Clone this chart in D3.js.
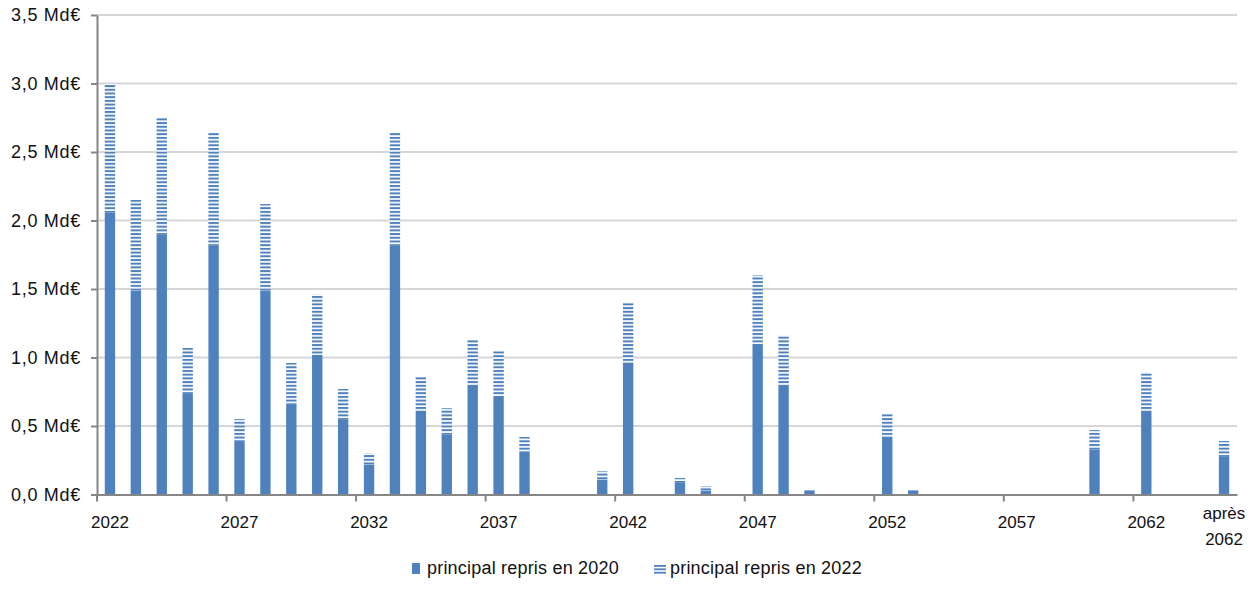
<!DOCTYPE html>
<html><head><meta charset="utf-8">
<script src="https://cdn.jsdelivr.net/npm/d3@7/dist/d3.min.js"></script>
<style>body{margin:0;background:#fff}svg{display:block}</style>
</head><body><svg id="c" width="1260" height="597"></svg>
<script>
const categories = ["2022","2023","2024","2025","2026","2027","2028","2029","2030","2031","2032","2033","2034","2035","2036","2037","2038","2039","2040","2041","2042","2043","2044","2045","2046","2047","2048","2049","2050","2051","2052","2053","2054","2055","2056","2057","2058","2059","2060","2061","2062","2063","2064","après 2062"];
const principal2020 = [2.06,1.49,1.90,0.74,1.82,0.39,1.49,0.66,1.02,0.55,0.22,1.82,0.61,0.44,0.80,0.72,0.31,0,0,0.11,0.96,0,0.09,0.03,0,1.10,0.80,0.03,0,0,0.42,0.03,0,0,0,0,0,0,0.33,0,0.61,0,0,0.28];
const principal2022 = [0.94,0.66,0.85,0.33,0.82,0.16,0.63,0.30,0.44,0.22,0.08,0.82,0.25,0.19,0.33,0.33,0.11,0,0,0.06,0.44,0,0.03,0.03,0,0.50,0.36,0,0,0,0.17,0,0,0,0,0,0,0,0.14,0,0.28,0,0,0.11];
const yTicks = [0,0.5,1.0,1.5,2.0,2.5,3.0,3.5];
const shownLabels = ["2022","2027","2032","2037","2042","2047","2052","2057","2062","après 2062"];
const tickCats = ["2022","2027","2032","2037","2042","2047","2052","2057","2062"];
const seriesNames = ["principal repris en 2020","principal repris en 2022"];

const blue = "#4f81bd";
const font = "Liberation Sans, Arial, sans-serif";
const svg = d3.select("#c");
const L = 97, R = 1237, T = 15, B = 494.5;

const x = d3.scaleBand().domain(categories).range([L, R]).paddingInner(0.6).paddingOuter(0.3);
const y = d3.scaleLinear().domain([0, 3.5]).range([B, T]);
const fmt = v => d3.format(".1f")(v).replace(".", ",") + " Md€";

const defs = svg.append("defs");
const pat = defs.append("pattern").attr("id","stripes").attr("patternUnits","userSpaceOnUse")
  .attr("width", 8).attr("height", 3.7);
pat.append("rect").attr("width",8).attr("height",3.7).attr("fill","#fff");
pat.append("rect").attr("y",0).attr("width",8).attr("height",2).attr("fill",blue);

// gridlines
svg.append("g").selectAll("line").data(yTicks.filter(d=>d>0)).join("line")
  .attr("x1", L).attr("x2", R).attr("y1", d=>y(d)).attr("y2", d=>y(d))
  .attr("stroke","#d6d6d6").attr("stroke-width",2);

// bars
const step = x.step();
const g = svg.append("g");
categories.forEach((c,i)=>{
  const a = principal2020[i], b = principal2022[i];
  if (a>0) g.append("rect").attr("x", x(c)).attr("width", x.bandwidth())
    .attr("y", y(a)).attr("height", y(0)-y(a)).attr("fill", blue);
  if (b>0) g.append("rect").attr("x", x(c)).attr("width", x.bandwidth())
    .attr("y", y(a+b)).attr("height", y(a)-y(a+b)).attr("fill","url(#stripes)");
});

// y axis
const yAxis = d3.axisLeft(y).tickValues(yTicks).tickFormat(fmt).tickSize(6).tickSizeOuter(0).tickPadding(10);
const ya = svg.append("g").attr("transform",`translate(${L},0)`).call(yAxis);
ya.select(".domain").attr("stroke","#868686").attr("stroke-width",2);
ya.selectAll(".tick line").attr("stroke","#868686").attr("stroke-width",2);
ya.selectAll("text").attr("font-family",font).attr("font-size",18).attr("letter-spacing","0.7px").attr("fill","#111");

// x axis
const xAxis = d3.axisBottom(x).tickValues(shownLabels).tickSize(0).tickPadding(0).tickSizeOuter(0);
const xa = svg.append("g").attr("transform",`translate(0,${B})`).call(xAxis);
xa.select(".domain").attr("stroke","#868686").attr("stroke-width",2);
xa.selectAll("text").attr("font-family",font).attr("font-size",17).attr("fill","#111")
  .attr("y",0).attr("dy",null)
  .each(function(d){
    const t = d3.select(this);
    const parts = d.split(" ");
    t.text(null);
    if (parts.length === 1) {
      t.append("tspan").attr("x",0).attr("y",33).text(d);
    } else {
      parts.forEach((p,k)=>t.append("tspan").attr("x",0).attr("y", k===0 ? 24 : 50).text(p));
    }
  });
svg.append("g").selectAll("line").data(tickCats).join("line")
  .attr("x1", d=>x(d)+x.bandwidth()/2-step/2).attr("x2", d=>x(d)+x.bandwidth()/2-step/2)
  .attr("y1", B).attr("y2", B+7).attr("stroke","#868686").attr("stroke-width",2);

// legend
const lg = svg.append("g").attr("font-family",font).attr("font-size",18).attr("letter-spacing","0.2px").attr("fill","#111");
lg.append("rect").attr("x",412).attr("y",563).attr("width",8).attr("height",11).attr("fill",blue);
lg.append("text").attr("x",427).attr("y",574).text(seriesNames[0]);
[0,1,2].forEach(k=>lg.append("rect").attr("x",654).attr("y",565+k*3.4).attr("width",12).attr("height",1.8).attr("fill",blue));
lg.append("text").attr("x",670).attr("y",574).text(seriesNames[1]);
</script></body></html>
